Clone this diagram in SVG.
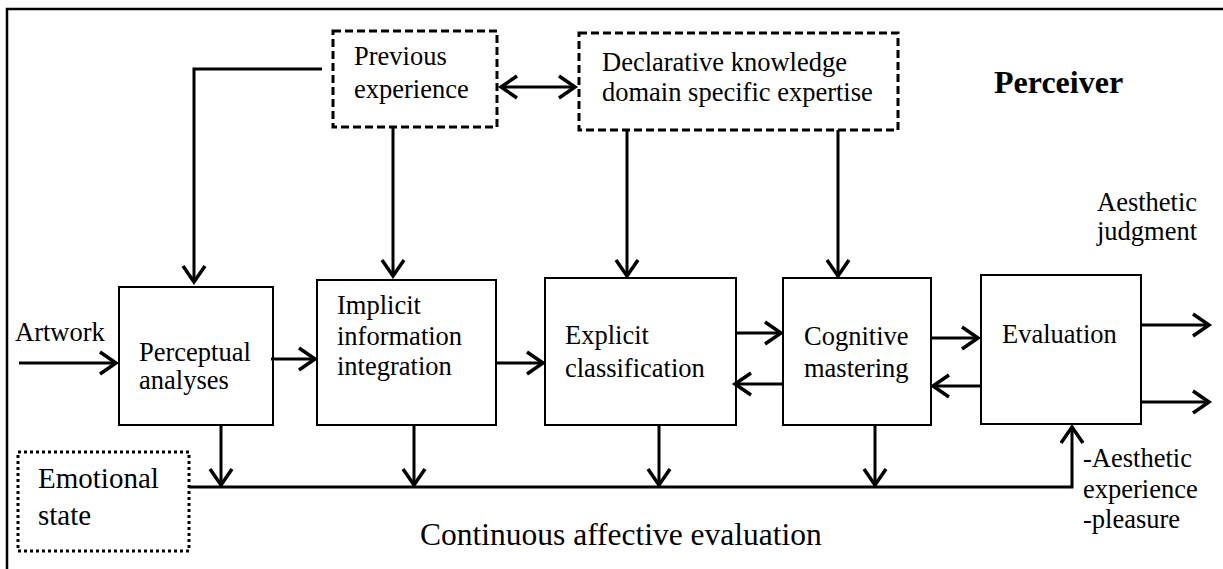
<svg xmlns="http://www.w3.org/2000/svg" width="1223" height="569" viewBox="0 0 1223 569">
<style>
.t{font-family:"Liberation Serif","Times New Roman",serif;font-size:26.5px;fill:#000}
.box{fill:#fff;stroke:#000;stroke-width:2}
.dash{fill:#fff;stroke:#000;stroke-width:3;stroke-dasharray:8 4}
.dot{fill:#fff;stroke:#000;stroke-width:3;stroke-dasharray:3 3}
.c{fill:none;stroke:#000;stroke-width:3}
</style>
<defs>
<marker id="ah" viewBox="-20 -14 24 28" refX="0" refY="0" markerWidth="24" markerHeight="28" markerUnits="userSpaceOnUse" orient="auto-start-reverse">
<path d="M-16,-11 L0,0 L-16,11" fill="none" stroke="#000" stroke-width="3.5"/>
</marker>
</defs>
<rect width="1223" height="569" fill="#fff"/>
<path d="M7,570 V9 H1224" fill="none" stroke="#000" stroke-width="2.5"/>

<g id="previous-experience">
<rect class="dash" x="333" y="31" width="164" height="96"/>
<text class="t" x="354" y="65">Previous</text>
<text class="t" x="354" y="98">experience</text>
</g>
<g id="declarative-knowledge">
<rect class="dash" x="579" y="33" width="319" height="97"/>
<text class="t" x="602" y="71">Declarative knowledge</text>
<text class="t" x="602" y="101">domain specific expertise</text>
</g>
<g id="perceiver-label">
<text class="t" x="994" y="93" style="font-size:32px;font-weight:bold">Perceiver</text>
</g>
<g id="aesthetic-judgment">
<text class="t" x="1097" y="211">Aesthetic</text>
<text class="t" x="1097" y="240">judgment</text>
</g>
<g id="artwork">
<text class="t" x="15" y="341">Artwork</text>
</g>
<g id="perceptual-analyses">
<rect class="box" x="119" y="287" width="154" height="138"/>
<text class="t" x="139" y="361">Perceptual</text>
<text class="t" x="139" y="389">analyses</text>
</g>
<g id="implicit-integration">
<rect class="box" x="317" y="280" width="179" height="145"/>
<text class="t" x="337" y="314">Implicit</text>
<text class="t" x="337" y="345">information</text>
<text class="t" x="337" y="375">integration</text>
</g>
<g id="explicit-classification">
<rect class="box" x="545" y="278" width="191" height="147"/>
<text class="t" x="565" y="344">Explicit</text>
<text class="t" x="565" y="377">classification</text>
</g>
<g id="cognitive-mastering">
<rect class="box" x="783" y="278" width="148" height="147"/>
<text class="t" x="804" y="345">Cognitive</text>
<text class="t" x="804" y="377">mastering</text>
</g>
<g id="evaluation">
<rect class="box" x="981" y="275" width="160" height="149"/>
<text class="t" x="1002" y="343">Evaluation</text>
</g>
<g id="emotional-state">
<rect class="dot" x="18" y="452" width="171" height="99"/>
<text class="t" x="38" y="488" style="font-size:29px">Emotional</text>
<text class="t" x="38" y="525" style="font-size:29px">state</text>
</g>
<g id="continuous-affective-evaluation">
<text class="t" x="420" y="545" style="font-size:31.5px">Continuous affective evaluation</text>
</g>
<g id="aesthetic-experience">
<text class="t" x="1083" y="467">-Aesthetic</text>
<text class="t" x="1083" y="498">experience</text>
<text class="t" x="1083" y="528">-pleasure</text>
</g>

<g id="connectors">
<path class="c" d="M322,69 H194 V282" marker-end="url(#ah)"/>
<path class="c" d="M393,127 V276" marker-end="url(#ah)"/>
<path class="c" d="M501,87 H575" marker-start="url(#ah)" marker-end="url(#ah)"/>
<path class="c" d="M627,130 V276" marker-end="url(#ah)"/>
<path class="c" d="M838,130 V276" marker-end="url(#ah)"/>
<path class="c" d="M19,363 H116" marker-end="url(#ah)"/>
<path class="c" d="M271,359 H315" marker-end="url(#ah)"/>
<path class="c" d="M496,363 H543" marker-end="url(#ah)"/>
<path class="c" d="M736,333 H781" marker-end="url(#ah)"/>
<path class="c" d="M783,384 H735" marker-end="url(#ah)"/>
<path class="c" d="M931,338 H978" marker-end="url(#ah)"/>
<path class="c" d="M981,386 H933" marker-end="url(#ah)"/>
<path class="c" d="M1141,325 H1209" marker-end="url(#ah)"/>
<path class="c" d="M1141,402 H1209" marker-end="url(#ah)"/>
<path class="c" d="M221,425 V485" marker-end="url(#ah)"/>
<path class="c" d="M414,425 V485" marker-end="url(#ah)"/>
<path class="c" d="M659,425 V485" marker-end="url(#ah)"/>
<path class="c" d="M875,425 V485" marker-end="url(#ah)"/>
<path class="c" d="M189,487 H1072 V427" marker-end="url(#ah)"/>
</g>
</svg>
